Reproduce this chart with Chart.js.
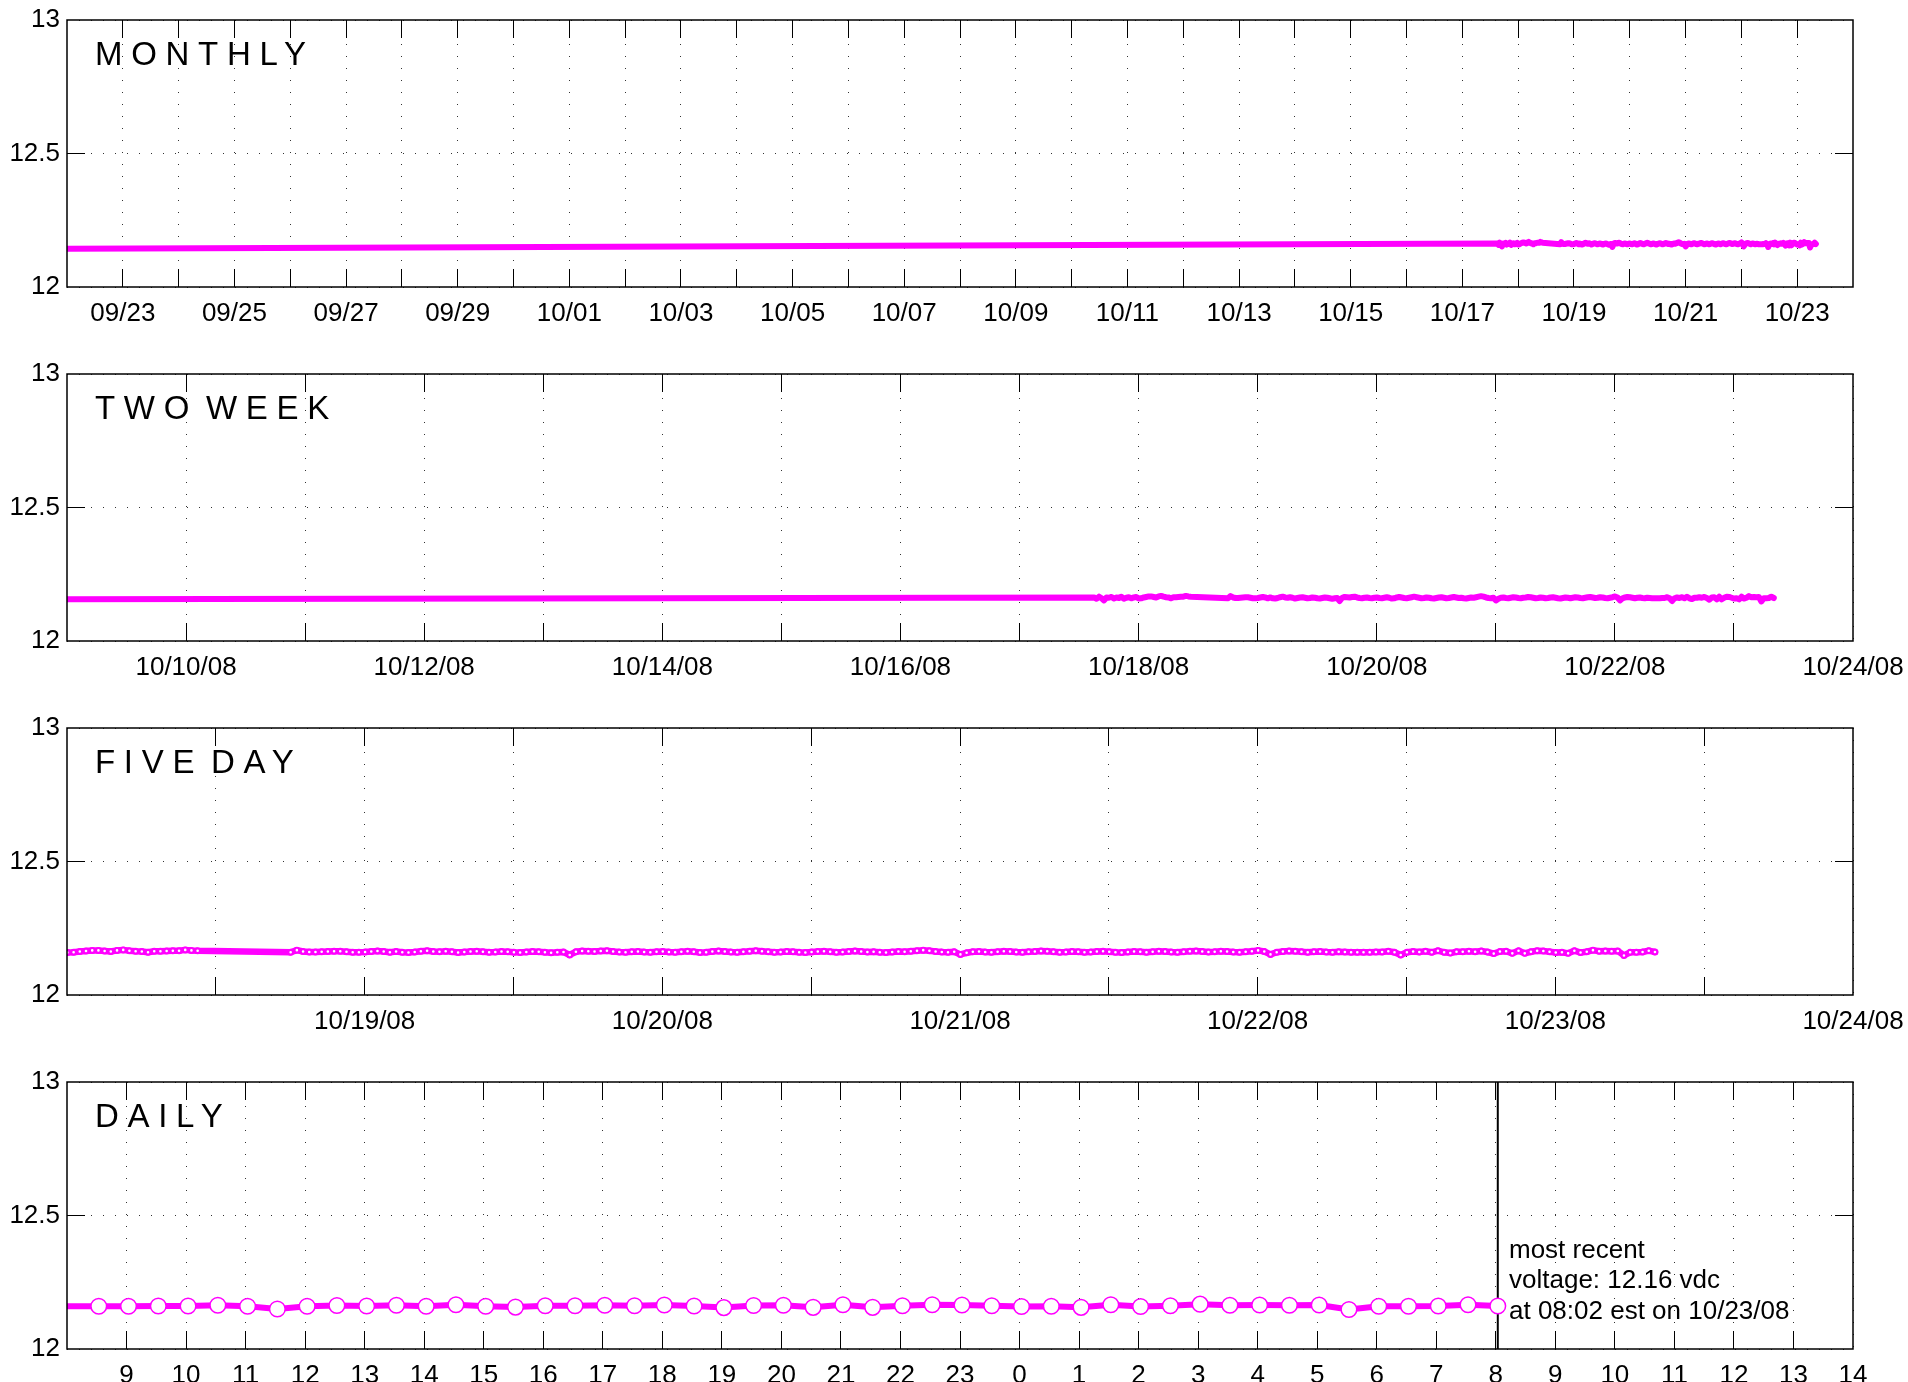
<!DOCTYPE html>
<html>
<head>
<meta charset="utf-8">
<script src="https://cdn.jsdelivr.net/npm/chart.js@4.4.0/dist/chart.umd.min.js"></script>
<style>
  html, body { margin: 0; padding: 0; background: #fff; overflow: hidden; width: 1908px; height: 1382px; }
  .panel { position: absolute; left: 0; width: 1908px; height: 354px; }
  canvas { display: block; }
  .ttl { position: absolute; left: 95px; font-family: "Liberation Sans", Arial, sans-serif; font-size: 33px;
         line-height: 33px; letter-spacing: 8.7px; word-spacing: -10px; color: #000; white-space: pre; }
  .note { position: absolute; left: 1509px; top: 1234px; font-family: "Liberation Sans", Arial, sans-serif;
          font-size: 26px; line-height: 30.4px; color: #000; white-space: pre; }
</style>
</head>
<body>
<div class="panel" style="top:0px"><canvas id="c0" width="1908" height="354"></canvas></div>
<div class="panel" style="top:354px"><canvas id="c1" width="1908" height="354"></canvas></div>
<div class="panel" style="top:708px"><canvas id="c2" width="1908" height="354"></canvas></div>
<div class="panel" style="top:1062px"><canvas id="c3" width="1908" height="354"></canvas></div>
<div class="ttl" id="t0" style="top:37px"></div>
<div class="ttl" id="t1" style="top:391px"></div>
<div class="ttl" id="t2" style="top:745px"></div>
<div class="ttl" id="t3" style="top:1099px"></div>
<div class="note" id="note"></div>
<script>
// ================= DATA =================
// time unit: days after 10/01/08 00:00 (so 10/23 00:00 = 22)
const seriesStart = 16 + (15 * 60 + 2) / 1440;   // 10/17/08 15:02, half-hourly readings
const readingsPerDay = 48;
// battery voltage (vdc), one reading every 30 minutes; null = missing reading
const voltage = [
  // 10/17 15:02 - 23:32
  12.163, 12.158, 12.166, 12.160, 12.152, 12.163, 12.162, 12.165, 12.159, 12.163, 12.161, 12.166,
  12.158, 12.162, 12.164, 12.160, 12.163, 12.165,
  // 10/18 00:02 - 10:32
  12.159, 12.160, 12.163, 12.165, 12.167, 12.167, 12.165, 12.163, 12.167, 12.169, 12.166, 12.164,
  12.163, 12.160, 12.164, 12.164, 12.165, 12.166, 12.166, 12.169, 12.167, 12.166,
  // 10/18 11:02 - 17:32 (no readings)
  null, null, null, null, null, null, null, null, null, null, null, null, null, null,
  // 10/18 18:02 - 23:32
  12.160, 12.168, 12.163, 12.161, 12.161, 12.162, 12.163, 12.164, 12.164, 12.162, 12.160, 12.160,
  // 10/19
  12.161, 12.163, 12.165, 12.163, 12.160, 12.163, 12.160, 12.159, 12.161, 12.164, 12.166, 12.163,
  12.162, 12.164, 12.162, 12.159, 12.161, 12.163, 12.164, 12.162, 12.160, 12.161, 12.163, 12.162,
  12.160, 12.159, 12.161, 12.163, 12.162, 12.160, 12.158, 12.160, 12.161, 12.150, 12.162, 12.165,
  12.164, 12.163, 12.165, 12.166, 12.163, 12.161, 12.160, 12.162, 12.163, 12.161, 12.160, 12.162,
  // 10/20
  12.163, 12.161, 12.160, 12.162, 12.164, 12.162, 12.159, 12.160, 12.163, 12.165, 12.163, 12.161,
  12.160, 12.162, 12.164, 12.166, 12.164, 12.162, 12.160, 12.161, 12.163, 12.162, 12.160, 12.159,
  12.161, 12.163, 12.164, 12.162, 12.160, 12.161, 12.163, 12.165, 12.163, 12.161, 12.162, 12.160,
  12.159, 12.161, 12.163, 12.162, 12.164, 12.166, 12.168, 12.166, 12.163, 12.161, 12.160, 12.162,
  // 10/21
  12.152, 12.158, 12.162, 12.163, 12.161, 12.160, 12.162, 12.164, 12.163, 12.161, 12.160, 12.162,
  12.163, 12.165, 12.164, 12.162, 12.160, 12.161, 12.163, 12.162, 12.160, 12.161, 12.163, 12.164,
  12.162, 12.160, 12.159, 12.161, 12.163, 12.162, 12.160, 12.162, 12.164, 12.163, 12.161, 12.160,
  12.162, 12.164, 12.165, 12.163, 12.161, 12.162, 12.164, 12.163, 12.161, 12.160, 12.162, 12.164,
  // 10/22 00:02 - 07:32
  12.167, 12.163, 12.152, 12.160, 12.163, 12.165, 12.164, 12.162, 12.160, 12.162, 12.163, 12.161,
  12.160, 12.162, 12.161, 12.160,
  // 10/22 08:02 - 10/23 08:02
  12.160, 12.160, 12.160, 12.161, 12.161, 12.164, 12.160, 12.150, 12.160, 12.163, 12.161, 12.164,
  12.160, 12.166, 12.160, 12.157, 12.162, 12.162, 12.164, 12.162, 12.165, 12.161, 12.155, 12.163,
  12.164, 12.156, 12.166, 12.156, 12.162, 12.166, 12.165, 12.162, 12.159, 12.160, 12.156, 12.166,
  12.159, 12.162, 12.168, 12.164, 12.165, 12.164, 12.165, 12.148, 12.160, 12.160, 12.161, 12.166,
  12.161
];
// older reading that starts the monthly trace (09/22/08 00:00)
const earlyTimes = [-9];
const earlyValues = [12.143];

const monthlyLabels = ['09/23','09/25','09/27','09/29','10/01','10/03','10/05','10/07',
                       '10/09','10/11','10/13','10/15','10/17','10/19','10/21','10/23'];
const twoWeekLabels = ['10/10/08','10/12/08','10/14/08','10/16/08','10/18/08','10/20/08','10/22/08','10/24/08'];
const fiveDayLabels = ['10/19/08','10/20/08','10/21/08','10/22/08','10/23/08','10/24/08'];
const dailyLabels = ['9','10','11','12','13','14','15','16','17','18','19','20','21','22','23',
                     '0','1','2','3','4','5','6','7','8','9','10','11','12','13','14'];
const yTickValues = [12, 12.5, 13];
const yTickLabels = ['12', '12.5', '13'];
const panelTitles = ['MONTHLY', 'TWO WEEK', 'FIVE DAY', 'DAILY'];
const recentNote = ['most recent', 'voltage: 12.16 vdc', 'at 08:02 est on 10/23/08'];
const recentTime = 22 + (8 * 60 + 2) / 1440;   // 10/23/08 08:02

// ================= BUILD =================
const MAGENTA = '#ff00ff';
const FONT = { family: '"Liberation Sans", Arial, sans-serif', size: 26 };

const points = [];
earlyTimes.forEach((t, i) => points.push({ x: t, y: earlyValues[i] }));
voltage.forEach((v, i) => { if (v !== null) points.push({ x: seriesStart + i / readingsPerDay, y: v }); });

// tick definitions (value + label) for each panel
const monthlyTicks = [];
for (let k = 0; k <= 30; k++) monthlyTicks.push({ v: -8 + k, label: k % 2 === 0 ? monthlyLabels[k / 2] : '' });
const twoWeekTicks = [];
for (let k = 0; k <= 14; k++) twoWeekTicks.push({ v: 9 + k, label: k % 2 === 0 ? twoWeekLabels[k / 2] : '' });
const fiveDayTicks = [];
for (let k = 0; k <= 11; k++) fiveDayTicks.push({ v: 17.5 + k / 2, label: k % 2 === 1 ? fiveDayLabels[(k - 1) / 2] : '' });
const dailyTicks = [];
for (let k = 0; k < dailyLabels.length; k++) dailyTicks.push({ v: 21 + (9 + k) / 24, label: dailyLabels[k] });

const TL = 18;
function alignPx(p, w) { return Math.round(p - w / 2) + w / 2; }

const framePlugin = {
  id: 'frame',
  afterDraw(chart) {
    const { ctx, chartArea: a } = chart;
    const xs = chart.scales.x, ys = chart.scales.y;
    ctx.save();
    ctx.strokeStyle = '#000';
    ctx.lineWidth = 1;
    ctx.beginPath();
    xs.ticks.forEach(t => {
      const px = alignPx(xs.getPixelForValue(t.value), 1);
      if (px <= a.left + 1 || px >= a.right - 1) return;
      ctx.moveTo(px, a.bottom); ctx.lineTo(px, a.bottom - TL);
      ctx.moveTo(px, a.top); ctx.lineTo(px, a.top + TL);
    });
    ys.ticks.forEach(t => {
      const py = alignPx(ys.getPixelForValue(t.value), 1);
      if (py <= a.top + 1 || py >= a.bottom - 1) return;
      ctx.moveTo(a.left, py); ctx.lineTo(a.left + TL, py);
      ctx.moveTo(a.right, py); ctx.lineTo(a.right - TL, py);
    });
    ctx.stroke();
    ctx.lineWidth = 1.5;
    ctx.strokeRect(a.left, a.top, a.right - a.left, a.bottom - a.top);
    ctx.restore();
  }
};

function makeChart(id, xmin, xmax, tickDefs, datasets) {
  return new Chart(document.getElementById(id), {
    type: 'line',
    data: { datasets },
    options: {
      responsive: false, animation: false, devicePixelRatio: 1, events: [],
      layout: { padding: { left: 0, right: 55, top: 20, bottom: 17 } },
      plugins: { legend: { display: false }, tooltip: { enabled: false } },
      scales: {
        x: {
          type: 'linear', min: xmin, max: xmax,
          afterBuildTicks: s => { s.ticks = tickDefs.map(t => ({ value: t.v })); },
          afterFit: s => { s.height = 50; s.paddingLeft = 0; s.paddingRight = 0; },
          ticks: { autoSkip: false, maxRotation: 0, minRotation: 0, padding: 11, color: '#000', font: FONT,
                   callback: (v, i) => tickDefs[i] ? tickDefs[i].label : '' },
          grid: { color: '#333', lineWidth: 1, drawTicks: false, drawOnChartArea: true },
          border: { display: false, dash: [1, 11] }
        },
        y: {
          type: 'linear', min: 12, max: 13,
          afterBuildTicks: s => { s.ticks = yTickValues.map(v => ({ value: v })); },
          afterFit: s => { s.width = 67; s.paddingTop = 0; s.paddingBottom = 0; },
          ticks: { padding: 7, color: '#000', font: FONT, callback: (v, i) => yTickLabels[i] },
          grid: { color: '#333', lineWidth: 1, drawTicks: false, drawOnChartArea: true },
          border: { display: false, dash: [1, 11] }
        }
      }
    },
    plugins: [framePlugin]
  });
}

const traceBase = { data: points, borderColor: MAGENTA, borderWidth: 6, tension: 0, clip: 0,
                    borderJoinStyle: 'round', borderCapStyle: 'round', spanGaps: true };

makeChart('c0', -9, 23, monthlyTicks, [Object.assign({}, traceBase, { pointRadius: 0 })]);
makeChart('c1', 8, 23, twoWeekTicks, [Object.assign({}, traceBase, { pointRadius: 0 })]);
makeChart('c2', 17, 23, fiveDayTicks, [Object.assign({}, traceBase, {
  borderWidth: 6.5, pointRadius: 2.4, pointBorderWidth: 2.2, pointBackgroundColor: '#fff', pointBorderColor: MAGENTA
})]);
const dailyMin = 21 + 8 / 24, dailyMax = 22 + 14 / 24;
makeChart('c3', dailyMin, dailyMax, dailyTicks, [
  Object.assign({}, traceBase, {
    pointRadius: c => (c.raw && c.raw.x > dailyMin + 0.002) ? 7.8 : 0,
    pointBorderWidth: 1.5, pointBackgroundColor: '#fff', pointBorderColor: MAGENTA
  }),
  { data: [{ x: recentTime, y: 12 }, { x: recentTime, y: 13 }], borderColor: '#000', borderWidth: 2,
    pointRadius: 0, clip: 0, tension: 0 }
]);

panelTitles.forEach((t, i) => { document.getElementById('t' + i).textContent = t; });
document.getElementById('note').textContent = recentNote.join('\n');
</script>
</body>
</html>
